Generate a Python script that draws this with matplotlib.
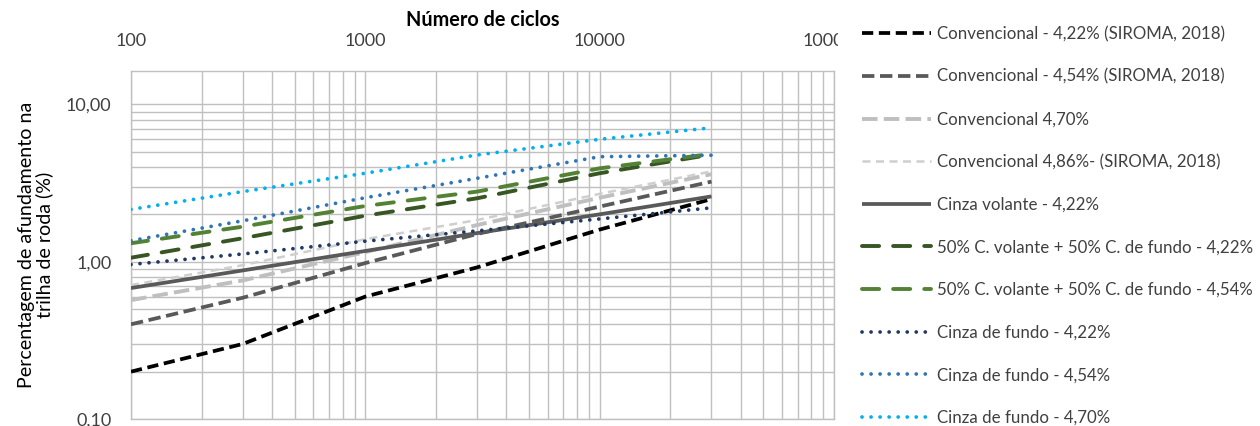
import matplotlib
matplotlib.use("Agg")
import matplotlib.pyplot as plt
from matplotlib.ticker import FixedLocator, FuncFormatter, NullFormatter
from matplotlib.patches import Rectangle

plt.rcParams['font.family'] = ['Lato', 'DejaVu Sans']

cycles = [100, 300, 1000, 3000, 10000, 30000]

conv_422 = [0.20, 0.30, 0.60, 0.92, 1.60, 2.50]
conv_454 = [0.40, 0.59, 0.98, 1.50, 2.24, 3.23]
conv_470 = [0.57, 0.76, 1.15, 1.71, 2.55, 3.60]
conv_486 = [0.71, 0.95, 1.39, 1.84, 2.70, 3.75]
cv_422 = [0.68, 0.88, 1.17, 1.52, 2.00, 2.60]
mix_422 = [1.06, 1.41, 1.96, 2.53, 3.65, 4.80]
mix_454 = [1.31, 1.67, 2.26, 2.79, 3.92, 4.84]
cf_422 = [0.96, 1.12, 1.35, 1.57, 1.87, 2.20]
cf_454 = [1.36, 1.82, 2.55, 3.39, 4.65, 4.75]
cf_470 = [2.15, 2.79, 3.65, 4.77, 6.00, 7.10]

labels = [
    "Convencional - 4,22% (SIROMA, 2018)",
    "Convencional - 4,54% (SIROMA, 2018)",
    "Convencional 4,70%",
    "Convencional 4,86%- (SIROMA, 2018)",
    "Cinza volante - 4,22%",
    "50% C. volante + 50% C. de fundo - 4,22%",
    "50% C. volante + 50% C. de fundo - 4,54%",
    "Cinza de fundo - 4,22%",
    "Cinza de fundo - 4,54%",
    "Cinza de fundo - 4,70%",
]
series = [conv_422, conv_454, conv_470, conv_486, cv_422,
          mix_422, mix_454, cf_422, cf_454, cf_470]

dot = (0, (0.01, 2.4))
styles = [
    dict(color="#000000", lw=2.7, ls=(0, (3.0, 1.5)), cap="butt"),
    dict(color="#595959", lw=2.7, ls=(0, (3.3, 1.5)), cap="butt"),
    dict(color="#BFBFBF", lw=2.8, ls=(0, (4.0, 1.6)), cap="butt"),
    dict(color="#D0CECE", lw=1.8, ls=(0, (3.2, 2.2)), cap="butt"),
    dict(color="#595959", lw=2.7, ls="-", cap="butt"),
    dict(color="#375623", lw=2.8, ls=(0, (4.4, 3.6)), cap="round"),
    dict(color="#548235", lw=2.8, ls=(0, (4.4, 3.6)), cap="round"),
    dict(color="#203864", lw=2.7, ls=dot, cap="round"),
    dict(color="#2E75B6", lw=2.7, ls=dot, cap="round"),
    dict(color="#00B0F0", lw=2.7, ls=dot, cap="round"),
]

W, H = 1260, 426
fig = plt.figure(figsize=(W / 100, H / 100), dpi=100)
L, R, T, B = 131, 834, 71, 419
ax = fig.add_axes([L / W, 1 - B / H, (R - L) / W, (B - T) / H])

handles = []
for vals, lab, st in zip(series, labels, styles):
    h, = ax.plot(cycles, vals, label=lab, color=st["color"], linewidth=st["lw"],
                 linestyle=st["ls"], dash_capstyle=st["cap"],
                 solid_capstyle="butt", zorder=3)
    handles.append(h)

ax.set_xscale("log")
ax.set_yscale("log")
ax.set_xlim(100, 100000)
ax.set_ylim(0.1, 16.3)

grid_c = "#C0C0C0"
xmaj = [100, 1000, 10000, 100000]
xmin = [m * d for d in (100, 1000, 10000) for m in range(2, 10)]
ymaj = [0.1, 1, 10]
ymin = [m * d for d in (0.1, 1) for m in range(2, 10)]
ax.xaxis.set_major_locator(FixedLocator(xmaj))
ax.xaxis.set_minor_locator(FixedLocator(xmin))
ax.yaxis.set_major_locator(FixedLocator(ymaj))
ax.yaxis.set_minor_locator(FixedLocator(ymin))
ax.xaxis.set_major_formatter(FuncFormatter(lambda v, p: f"{int(round(v))}"))
ax.yaxis.set_major_formatter(FuncFormatter(lambda v, p: f"{v:.2f}".replace(".", ",")))
ax.xaxis.set_minor_formatter(NullFormatter())
ax.yaxis.set_minor_formatter(NullFormatter())
ax.grid(True, which="both", color=grid_c, linewidth=1.0, zorder=0)
ax.set_axisbelow(True)
for s in ax.spines.values():
    s.set_color(grid_c)
    s.set_linewidth(1.0)

ax.xaxis.tick_top()
ax.xaxis.set_label_position("top")
ax.tick_params(which="both", length=0)
ax.tick_params(axis="x", pad=16, labelsize=13, labelcolor="#404040")
ax.tick_params(axis="y", pad=14, labelsize=13, labelcolor="#404040")

ax.set_xlabel("Número de ciclos", fontsize=14.3, fontweight="bold", labelpad=5, color="black")
ax.set_ylabel("Percentagem de afundamento na\ntrilha de roda (%)", fontsize=14.1,
              color="black", labelpad=9, linespacing=1.05)

# white area on the right, clipping the last x tick label like the reference
fig.add_artist(Rectangle((838 / W, 0), 1 - 838 / W, 1, transform=fig.transFigure,
                         facecolor="white", edgecolor="none", zorder=1))

leg = fig.legend(handles=handles, labels=labels, loc="upper left",
                 bbox_to_anchor=(862 / W, 1 - 26 / H), frameon=False,
                 fontsize=12.2, handlelength=4.1, handletextpad=0.3,
                 labelspacing=1.57, borderpad=0, borderaxespad=0)
leg.set_zorder(5)
for t in leg.get_texts():
    t.set_color("#404040")

fig.savefig("out.png", dpi=100)
